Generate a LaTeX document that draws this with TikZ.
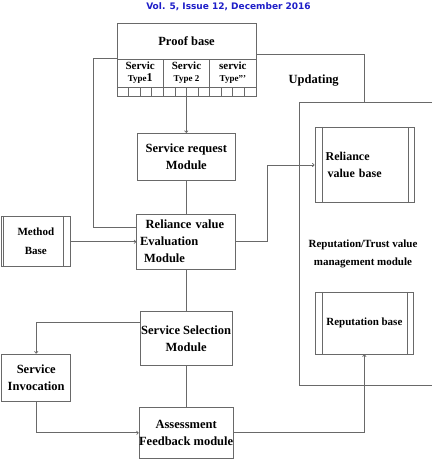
\documentclass[tikz,border=0pt]{standalone}
\usepackage{fontspec}
\setmainfont{Liberation Serif}
\newfontfamily\headfont{DejaVu Sans}
\usetikzlibrary{arrows.meta, positioning}
\definecolor{linegray}{RGB}{105,105,105}
\definecolor{headblue}{RGB}{30,30,200}
\newcommand{\blockfont}{\fontsize{12.5}{17}\selectfont\bfseries}
\newcommand{\smallbold}{\fontsize{11}{18}\selectfont\bfseries}
\newcommand{\typefont}{\fontsize{9}{12}\selectfont\bfseries}

\begin{document}
\begin{tikzpicture}[x=1pt, y=-1pt,
    block/.style={rectangle, draw=linegray, line width=0.8pt, inner sep=0pt, font=\blockfont, align=center},
    store/.style={block, font=\smallbold},
    svcbox/.style={block, minimum width=46.33pt, minimum height=28pt, font=\fontsize{11}{12}\selectfont\bfseries},
    cell/.style={rectangle, draw=linegray, line width=0.8pt, minimum width=11.583pt, minimum height=9pt, inner sep=0pt},
    arrow/.style={-{To[length=2.5pt, width=4pt]}, draw=linegray, line width=0.7pt},
    line/.style={draw=linegray, line width=0.7pt}
]
    \useasboundingbox (0,0) rectangle (432,460);
    \node[font=\headfont\fontsize{9}{11}\selectfont\bfseries, text=headblue] (head) at (228.5,7) {Vol. 5, Issue 12, December 2016};

    \node[block, minimum width=139pt, minimum height=36pt] (proof) at (186.5,41) {Proof base};
    \node[svcbox] (svc1) at (140.17,73) {Servic\\{\typefont Type}{\fontsize{12}{12}\selectfont 1}};
    \node[svcbox] (svc2) at (186.5,73) {Servic\\{\typefont Type 2}};
    \node[svcbox] (svc3) at (232.83,73) {servic\\{\typefont Type'''}};
    \foreach \i in {1,...,12}
        \node[cell] (cell\i) at ({117+(\i-0.5)*11.583},91.5) {};

    \node[block, minimum width=98pt, minimum height=47.4pt] (req) at (186.3,157) {Service request\\Module};
    \node[block, minimum width=98.6pt, minimum height=55pt, text width=92pt, align=left] (eval) at (186,241.5)
        {\hspace*{5.7pt}Reliance value\\Evaluation\\\hspace*{4pt}Module};
    \node[store, minimum width=69.7pt, minimum height=50pt] (method) at (35.85,241.7) {Method\\[1pt]Base};
    \node[block, minimum width=92.3pt, minimum height=53.3pt] (select) at (186.15,338.35) {Service Selection\\Module};
    \node[block, minimum width=69pt, minimum height=47pt] (invoke) at (36.2,377.5) {Service\\Invocation};
    \node[block, minimum width=92.3pt, minimum height=51pt] (assess) at (186.15,432.8) {Assessment\\Feedback module};

    \node[font=\blockfont] (upd) at (313.7,81) {Updating};
    \node[block, minimum width=99.3pt, minimum height=75.4pt, text width=78pt, align=left, font=\fontsize{12}{17}\selectfont\bfseries] (relbase) at (364.65,165)
        {Reliance\\\hspace*{2pt}value base};
    \node[font=\smallbold, align=center] (mgmt) at (363,254) {Reputation/Trust value\\management module};
    \node[store, minimum width=98.7pt, minimum height=61.7pt] (repbase) at (364.35,323.15) {Reputation base};
    \coordinate (mgmt-top) at (364,102);

    \foreach \n/\lsep/\rsep in {method/2.3/7.4, relbase/7.3/6.6, repbase/7.3/7}
        \draw[line] ([xshift=\lsep pt]\n.north west) -- ([xshift=\lsep pt]\n.south west)
                    ([xshift=-\rsep pt]\n.north east) -- ([xshift=-\rsep pt]\n.south east);

    \draw[line] (432,102) -| (299,385) -- (432,385);

    \draw[arrow] (req.north |- cell6.south) -- (req.north); \draw[line] (req.south) -- (req.south |- eval.north);
    \draw[line] (svc1.north west) -- ++(-23,0) |- ([yshift=-14pt]eval.north west);
    \draw[arrow] (method) -- (method -| eval.west);
    \draw[arrow] (eval.east) -- ++(31.4,0) |- (relbase.west);
    \draw[line] ([yshift=-13.3pt]proof.east) -| (mgmt-top);
    \draw[line] (select.north |- eval.south) -- (select.north);
    \draw[arrow] ([yshift=-10.6pt]select.north west) -| (invoke.north);
    \draw[arrow] (invoke.south) |- (assess.west);
    \draw[line] (select) -- (assess);
    \draw[arrow] (assess.east) -| (repbase.south);
\end{tikzpicture}
\end{document}
